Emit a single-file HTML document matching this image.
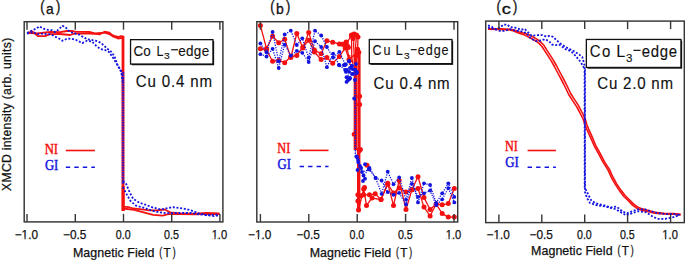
<!DOCTYPE html>
<html><head><meta charset="utf-8"><style>
html,body{margin:0;padding:0;background:#fff;width:685px;height:260px;overflow:hidden;}
svg{display:block;}
</style></head><body>
<svg width="685" height="260" viewBox="0 0 685 260" font-family="&quot;Liberation Sans&quot;, sans-serif">
<rect width="685" height="260" fill="#fff"/>
<polyline points="27.2,32.9 32.4,31.5 38.2,36.2 45.0,36.2 50.0,34.2 60.0,34.0 65.0,34.5 70.0,35.0 75.0,33.3 90.0,33.6 95.0,33.8 99.8,34.3 104.6,31.7 109.4,32.7 112.3,35.1 116.2,36.5 118.6,37.0 121.0,36.1 123.0,36.5 123.0,206.6 128.5,207.2 133.2,208.5 139.8,209.1 149.3,210.4 156.9,210.4 164.5,209.5 170.2,212.3 179.7,213.3 194.9,213.7 206.3,212.9 219.5,213.3" fill="none" stroke="#f41010" stroke-width="1.8" stroke-linejoin="round"/>
<polyline points="27.2,33.2 37.0,33.3 50.0,32.0 60.0,32.2 67.0,31.0 72.0,30.9 75.0,31.7 90.0,32.0 95.0,33.4 104.6,32.7 109.4,34.1 113.0,36.5 118.0,38.5 121.0,38.0 123.0,38.5 123.0,208.5 134.2,209.9 143.6,212.3 153.1,214.8 162.6,215.6 168.3,214.2 180.0,214.2 195.0,214.4 207.0,213.8 219.5,214.2" fill="none" stroke="#f41010" stroke-width="1.8" stroke-linejoin="round"/>
<line x1="123.0" y1="36" x2="123.0" y2="211" stroke="#f41010" stroke-width="2.8"/>
<line x1="123.2" y1="186" x2="123.2" y2="211" stroke="#f41010" stroke-width="3.0"/>
<polyline points="27.0,33.0 35.9,28.7 39.3,26.4 43.4,28.7 47.4,29.8 52.0,30.2 55.5,32.1 59.0,29.2 62.4,25.8 65.3,26.9 68.2,30.4 70.5,32.1 79.2,34.6 86.9,39.2 90.0,39.7 96.4,40.9 100.8,42.8 104.1,45.7 107.0,48.6 110.0,50.5 112.3,53.0 114.6,56.9 118.0,66.0 121.2,70.8 122.8,80.0" fill="none" stroke="#1414e0" stroke-width="1.8" stroke-dasharray="2 1.7" stroke-linejoin="round"/>
<polyline points="122.9,181.0 126.2,184.0 129.5,192.0 133.2,199.0 139.8,202.8 145.5,204.7 153.1,207.6 160.7,209.5 170.2,207.6 174.0,207.2 183.5,208.5 191.1,210.4 198.7,213.3 206.3,215.2 213.9,216.1 219.5,215.2" fill="none" stroke="#1414e0" stroke-width="1.8" stroke-dasharray="2 1.7" stroke-linejoin="round"/>
<polyline points="27.0,33.5 33.5,32.1 37.0,34.4 40.5,33.6 50.9,34.4 54.3,36.2 59.0,38.5 62.4,40.8 66.5,39.0 70.5,38.5 76.2,40.0 82.3,43.1 86.9,40.8 92.0,41.5 96.9,46.6 100.8,49.0 105.0,50.0 109.0,52.0 113.5,58.5 118.0,66.0 121.2,72.0 122.7,82.0" fill="none" stroke="#1414e0" stroke-width="1.8" stroke-dasharray="2 1.7" stroke-linejoin="round"/>
<polyline points="122.9,187.0 126.5,194.0 130.5,201.0 136.1,205.7 143.6,207.6 151.2,210.4 158.8,212.3 166.4,213.3 175.0,213.0 190.0,213.0 200.0,214.5 210.0,215.0 219.5,214.5" fill="none" stroke="#1414e0" stroke-width="1.8" stroke-dasharray="2 1.7" stroke-linejoin="round"/>
<line x1="123.0" y1="72" x2="123.0" y2="184" stroke="#1414e0" stroke-width="2.6" stroke-dasharray="1.8 0.7" opacity="0.78"/>
<polyline points="260.4,25.4 266.5,48.5 272.6,36.3 278.7,42.7 284.7,39.2 290.8,57.5 296.8,33.5 302.9,47.9 308.7,32.6 314.4,49.9 321.1,53.7 326.9,40.8 332.7,42.2 339.4,44.0 345.2,46.0 351.5,35.0 354.6,35.0" fill="none" stroke="#f41010" stroke-width="1.3" stroke-linejoin="round"/>
<polyline points="357.9,194.8 363.7,194.8 369.4,194.8 375.2,193.8 381.0,199.6 387.7,184.2 393.5,192.9 399.2,188.0 406.0,191.9 411.9,189.8 418.0,176.7 424.0,197.6 430.1,209.5 436.2,204.0 442.2,204.8 448.3,203.6 454.3,188.6" fill="none" stroke="#f41010" stroke-width="1.3" stroke-linejoin="round"/>
<polyline points="260.4,48.8 266.5,50.0 272.6,61.3 278.7,60.4 284.7,62.7 290.8,56.5 296.8,55.6 302.9,47.0 308.7,40.3 314.4,52.0 321.1,59.5 326.9,57.6 332.7,63.3 339.4,56.6 345.2,47.9 349.0,59.5 357.7,51.8" fill="none" stroke="#f41010" stroke-width="1.3" stroke-linejoin="round"/>
<polyline points="358.5,210.0 363.7,189.0 366.5,205.4 372.0,198.0 381.0,199.6 387.7,183.3 393.5,205.4 399.2,180.5 406.0,209.6 411.9,189.8 418.0,188.6 424.0,207.1 430.1,216.0 436.2,204.0 442.2,213.6 448.3,217.1 454.3,217.1" fill="none" stroke="#f41010" stroke-width="1.3" stroke-linejoin="round"/>
<line x1="355.4" y1="56" x2="355.4" y2="150" stroke="#f41010" stroke-width="3.5"/>
<line x1="359.0" y1="52" x2="359.0" y2="150" stroke="#f41010" stroke-width="3.2"/>
<line x1="358.7" y1="148" x2="358.7" y2="210" stroke="#f41010" stroke-width="3.4"/>
<polyline points="351.5,35.5 351.8,58.0 353.0,64.0" fill="none" stroke="#f41010" stroke-width="1.3" stroke-linejoin="round"/>
<polyline points="354.0,34.0 353.6,45.0 354.5,60.0" fill="none" stroke="#f41010" stroke-width="1.3" stroke-linejoin="round"/>
<polyline points="356.5,35.0 355.3,50.0 356.0,60.0" fill="none" stroke="#f41010" stroke-width="1.3" stroke-linejoin="round"/>
<polyline points="358.0,37.0 357.6,49.3 358.8,52.2 359.0,60.0" fill="none" stroke="#f41010" stroke-width="1.3" stroke-linejoin="round"/>
<polyline points="346.0,42.4 349.0,58.0 352.0,62.0" fill="none" stroke="#f41010" stroke-width="1.3" stroke-linejoin="round"/>
<polyline points="349.8,55.0 349.8,65.0" fill="none" stroke="#f41010" stroke-width="1.3" stroke-linejoin="round"/>
<circle cx="260.4" cy="25.4" r="2.5" fill="#f41010"/>
<circle cx="266.5" cy="48.5" r="2.5" fill="#f41010"/>
<circle cx="272.6" cy="36.3" r="2.5" fill="#f41010"/>
<circle cx="278.7" cy="42.7" r="2.5" fill="#f41010"/>
<circle cx="284.7" cy="39.2" r="2.5" fill="#f41010"/>
<circle cx="290.8" cy="57.5" r="2.5" fill="#f41010"/>
<circle cx="296.8" cy="33.5" r="2.5" fill="#f41010"/>
<circle cx="302.9" cy="47.9" r="2.5" fill="#f41010"/>
<circle cx="308.7" cy="32.6" r="2.5" fill="#f41010"/>
<circle cx="314.4" cy="49.9" r="2.5" fill="#f41010"/>
<circle cx="321.1" cy="53.7" r="2.5" fill="#f41010"/>
<circle cx="326.9" cy="40.8" r="2.5" fill="#f41010"/>
<circle cx="332.7" cy="42.2" r="2.5" fill="#f41010"/>
<circle cx="339.4" cy="44" r="2.5" fill="#f41010"/>
<circle cx="345.2" cy="46" r="2.5" fill="#f41010"/>
<circle cx="351.5" cy="35" r="2.5" fill="#f41010"/>
<circle cx="354.6" cy="35" r="2.5" fill="#f41010"/>
<circle cx="357.9" cy="194.8" r="2.5" fill="#f41010"/>
<circle cx="363.7" cy="194.8" r="2.5" fill="#f41010"/>
<circle cx="369.4" cy="194.8" r="2.5" fill="#f41010"/>
<circle cx="375.2" cy="193.8" r="2.5" fill="#f41010"/>
<circle cx="381" cy="199.6" r="2.5" fill="#f41010"/>
<circle cx="387.7" cy="184.2" r="2.5" fill="#f41010"/>
<circle cx="393.5" cy="192.9" r="2.5" fill="#f41010"/>
<circle cx="399.2" cy="188" r="2.5" fill="#f41010"/>
<circle cx="406" cy="191.9" r="2.5" fill="#f41010"/>
<circle cx="411.9" cy="189.8" r="2.5" fill="#f41010"/>
<circle cx="418" cy="176.7" r="2.5" fill="#f41010"/>
<circle cx="424" cy="197.6" r="2.5" fill="#f41010"/>
<circle cx="430.1" cy="209.5" r="2.5" fill="#f41010"/>
<circle cx="436.2" cy="204" r="2.5" fill="#f41010"/>
<circle cx="442.2" cy="204.8" r="2.5" fill="#f41010"/>
<circle cx="448.3" cy="203.6" r="2.5" fill="#f41010"/>
<circle cx="454.3" cy="188.6" r="2.5" fill="#f41010"/>
<circle cx="260.4" cy="48.8" r="2.5" fill="#f41010"/>
<circle cx="266.5" cy="50" r="2.5" fill="#f41010"/>
<circle cx="272.6" cy="61.3" r="2.5" fill="#f41010"/>
<circle cx="278.7" cy="60.4" r="2.5" fill="#f41010"/>
<circle cx="284.7" cy="62.7" r="2.5" fill="#f41010"/>
<circle cx="290.8" cy="56.5" r="2.5" fill="#f41010"/>
<circle cx="296.8" cy="55.6" r="2.5" fill="#f41010"/>
<circle cx="302.9" cy="47" r="2.5" fill="#f41010"/>
<circle cx="308.7" cy="40.3" r="2.5" fill="#f41010"/>
<circle cx="314.4" cy="52" r="2.5" fill="#f41010"/>
<circle cx="321.1" cy="59.5" r="2.5" fill="#f41010"/>
<circle cx="326.9" cy="57.6" r="2.5" fill="#f41010"/>
<circle cx="332.7" cy="63.3" r="2.5" fill="#f41010"/>
<circle cx="339.4" cy="56.6" r="2.5" fill="#f41010"/>
<circle cx="345.2" cy="47.9" r="2.5" fill="#f41010"/>
<circle cx="349" cy="59.5" r="2.5" fill="#f41010"/>
<circle cx="357.7" cy="51.8" r="2.5" fill="#f41010"/>
<circle cx="358.5" cy="210" r="2.5" fill="#f41010"/>
<circle cx="363.7" cy="189" r="2.5" fill="#f41010"/>
<circle cx="366.5" cy="205.4" r="2.5" fill="#f41010"/>
<circle cx="372" cy="198" r="2.5" fill="#f41010"/>
<circle cx="381" cy="199.6" r="2.5" fill="#f41010"/>
<circle cx="387.7" cy="183.3" r="2.5" fill="#f41010"/>
<circle cx="393.5" cy="205.4" r="2.5" fill="#f41010"/>
<circle cx="399.2" cy="180.5" r="2.5" fill="#f41010"/>
<circle cx="406" cy="209.6" r="2.5" fill="#f41010"/>
<circle cx="411.9" cy="189.8" r="2.5" fill="#f41010"/>
<circle cx="418" cy="188.6" r="2.5" fill="#f41010"/>
<circle cx="424" cy="207.1" r="2.5" fill="#f41010"/>
<circle cx="430.1" cy="216" r="2.5" fill="#f41010"/>
<circle cx="436.2" cy="204" r="2.5" fill="#f41010"/>
<circle cx="442.2" cy="213.6" r="2.5" fill="#f41010"/>
<circle cx="448.3" cy="217.1" r="2.5" fill="#f41010"/>
<circle cx="454.3" cy="217.1" r="2.5" fill="#f41010"/>
<circle cx="351.5" cy="35.5" r="2.5" fill="#f41010"/>
<circle cx="354" cy="34" r="2.5" fill="#f41010"/>
<circle cx="356.5" cy="35" r="2.5" fill="#f41010"/>
<circle cx="358" cy="37" r="2.5" fill="#f41010"/>
<circle cx="353" cy="38.5" r="2.5" fill="#f41010"/>
<circle cx="346" cy="42.4" r="2.5" fill="#f41010"/>
<circle cx="347.5" cy="46" r="2.5" fill="#f41010"/>
<circle cx="348.4" cy="47.6" r="2.5" fill="#f41010"/>
<circle cx="357.6" cy="49.3" r="2.5" fill="#f41010"/>
<circle cx="358.8" cy="52.2" r="2.5" fill="#f41010"/>
<circle cx="356" cy="56" r="2.5" fill="#f41010"/>
<circle cx="359.6" cy="96.2" r="2.5" fill="#f41010"/>
<circle cx="359.6" cy="104.6" r="2.5" fill="#f41010"/>
<circle cx="354.2" cy="134.2" r="2.5" fill="#f41010"/>
<circle cx="360.4" cy="149.6" r="2.5" fill="#f41010"/>
<circle cx="359.2" cy="150.8" r="2.5" fill="#f41010"/>
<circle cx="357.9" cy="201" r="2.5" fill="#f41010"/>
<circle cx="361" cy="195.7" r="2.5" fill="#f41010"/>
<circle cx="364.5" cy="187.4" r="2.5" fill="#f41010"/>
<circle cx="367" cy="165.2" r="2.5" fill="#f41010"/>
<circle cx="346.2" cy="41.9" r="2.5" fill="#f41010"/>
<circle cx="342.3" cy="44.2" r="2.5" fill="#f41010"/>
<polyline points="260.4,43.5 266.5,52.3 272.6,31.9 278.7,61.3 284.7,34.4 290.8,30.6 296.8,45.0 302.3,38.3 308.7,57.6 315.0,30.7 321.2,35.5 326.9,47.0 333.1,57.6 339.4,51.8 345.2,64.3 349.0,61.4 352.0,66.0" fill="none" stroke="#1414e0" stroke-width="1.3" stroke-dasharray="1.2 1.3"/>
<polyline points="352.0,66.0 355.3,72.0 355.3,155.0 357.0,157.0" fill="none" stroke="#1414e0" stroke-width="1.3" stroke-dasharray="1.2 1.3"/>
<polyline points="357.0,157.0 362.0,172.0 369.5,169.5 375.6,177.9 381.6,193.8 387.7,171.7 393.5,184.2 399.2,177.5 406.0,199.6 411.9,177.9 418.0,202.4 424.0,183.3 430.1,185.0 436.2,202.9 442.2,193.3 448.3,183.3 454.3,196.9" fill="none" stroke="#1414e0" stroke-width="1.3" stroke-dasharray="1.2 1.3"/>
<polyline points="260.4,54.2 266.5,56.5 272.6,48.8 278.7,68.0 284.7,44.6 290.8,55.6 296.8,50.8 302.3,52.8 308.7,62.0 315.0,41.2 321.2,47.0 326.9,67.2 333.1,53.7 339.4,65.3 345.2,70.0 350.0,78.0 355.0,80.0" fill="none" stroke="#1414e0" stroke-width="1.3" stroke-dasharray="1.2 1.3"/>
<polyline points="355.0,80.0 355.5,155.0 358.0,160.0" fill="none" stroke="#1414e0" stroke-width="1.3" stroke-dasharray="1.2 1.3"/>
<polyline points="358.0,160.0 363.5,175.5 369.5,168.0 375.6,177.9 381.6,180.5 387.7,192.1 393.5,194.8 399.2,192.9 406.0,204.4 411.9,183.8 418.0,196.9 424.0,193.3 430.1,190.5 436.2,205.2 442.2,199.3 448.3,188.1 454.3,202.4" fill="none" stroke="#1414e0" stroke-width="1.3" stroke-dasharray="1.2 1.3"/>
<circle cx="260.4" cy="43.5" r="1.9" fill="#1414e0"/>
<circle cx="266.5" cy="52.3" r="1.9" fill="#1414e0"/>
<circle cx="272.6" cy="31.9" r="1.9" fill="#1414e0"/>
<circle cx="278.7" cy="61.3" r="1.9" fill="#1414e0"/>
<circle cx="284.7" cy="34.4" r="1.9" fill="#1414e0"/>
<circle cx="290.8" cy="30.6" r="1.9" fill="#1414e0"/>
<circle cx="296.8" cy="45" r="1.9" fill="#1414e0"/>
<circle cx="302.3" cy="38.3" r="1.9" fill="#1414e0"/>
<circle cx="308.7" cy="57.6" r="1.9" fill="#1414e0"/>
<circle cx="315" cy="30.7" r="1.9" fill="#1414e0"/>
<circle cx="321.2" cy="35.5" r="1.9" fill="#1414e0"/>
<circle cx="326.9" cy="47" r="1.9" fill="#1414e0"/>
<circle cx="333.1" cy="57.6" r="1.9" fill="#1414e0"/>
<circle cx="339.4" cy="51.8" r="1.9" fill="#1414e0"/>
<circle cx="345.2" cy="64.3" r="1.9" fill="#1414e0"/>
<circle cx="349" cy="61.4" r="1.9" fill="#1414e0"/>
<circle cx="352" cy="66" r="1.9" fill="#1414e0"/>
<circle cx="357" cy="157" r="1.9" fill="#1414e0"/>
<circle cx="362" cy="172" r="1.9" fill="#1414e0"/>
<circle cx="369.5" cy="169.5" r="1.9" fill="#1414e0"/>
<circle cx="375.6" cy="177.9" r="1.9" fill="#1414e0"/>
<circle cx="381.6" cy="193.8" r="1.9" fill="#1414e0"/>
<circle cx="387.7" cy="171.7" r="1.9" fill="#1414e0"/>
<circle cx="393.5" cy="184.2" r="1.9" fill="#1414e0"/>
<circle cx="399.2" cy="177.5" r="1.9" fill="#1414e0"/>
<circle cx="406" cy="199.6" r="1.9" fill="#1414e0"/>
<circle cx="411.9" cy="177.9" r="1.9" fill="#1414e0"/>
<circle cx="418" cy="202.4" r="1.9" fill="#1414e0"/>
<circle cx="424" cy="183.3" r="1.9" fill="#1414e0"/>
<circle cx="430.1" cy="185" r="1.9" fill="#1414e0"/>
<circle cx="436.2" cy="202.9" r="1.9" fill="#1414e0"/>
<circle cx="442.2" cy="193.3" r="1.9" fill="#1414e0"/>
<circle cx="448.3" cy="183.3" r="1.9" fill="#1414e0"/>
<circle cx="454.3" cy="196.9" r="1.9" fill="#1414e0"/>
<circle cx="260.4" cy="54.2" r="1.9" fill="#1414e0"/>
<circle cx="266.5" cy="56.5" r="1.9" fill="#1414e0"/>
<circle cx="272.6" cy="48.8" r="1.9" fill="#1414e0"/>
<circle cx="278.7" cy="68" r="1.9" fill="#1414e0"/>
<circle cx="284.7" cy="44.6" r="1.9" fill="#1414e0"/>
<circle cx="290.8" cy="55.6" r="1.9" fill="#1414e0"/>
<circle cx="296.8" cy="50.8" r="1.9" fill="#1414e0"/>
<circle cx="302.3" cy="52.8" r="1.9" fill="#1414e0"/>
<circle cx="308.7" cy="62" r="1.9" fill="#1414e0"/>
<circle cx="315" cy="41.2" r="1.9" fill="#1414e0"/>
<circle cx="321.2" cy="47" r="1.9" fill="#1414e0"/>
<circle cx="326.9" cy="67.2" r="1.9" fill="#1414e0"/>
<circle cx="333.1" cy="53.7" r="1.9" fill="#1414e0"/>
<circle cx="339.4" cy="65.3" r="1.9" fill="#1414e0"/>
<circle cx="345.2" cy="70" r="1.9" fill="#1414e0"/>
<circle cx="350" cy="78" r="1.9" fill="#1414e0"/>
<circle cx="355" cy="80" r="1.9" fill="#1414e0"/>
<circle cx="358" cy="160" r="1.9" fill="#1414e0"/>
<circle cx="363.5" cy="175.5" r="1.9" fill="#1414e0"/>
<circle cx="369.5" cy="168" r="1.9" fill="#1414e0"/>
<circle cx="375.6" cy="177.9" r="1.9" fill="#1414e0"/>
<circle cx="381.6" cy="180.5" r="1.9" fill="#1414e0"/>
<circle cx="387.7" cy="192.1" r="1.9" fill="#1414e0"/>
<circle cx="393.5" cy="194.8" r="1.9" fill="#1414e0"/>
<circle cx="399.2" cy="192.9" r="1.9" fill="#1414e0"/>
<circle cx="406" cy="204.4" r="1.9" fill="#1414e0"/>
<circle cx="411.9" cy="183.8" r="1.9" fill="#1414e0"/>
<circle cx="418" cy="196.9" r="1.9" fill="#1414e0"/>
<circle cx="424" cy="193.3" r="1.9" fill="#1414e0"/>
<circle cx="430.1" cy="190.5" r="1.9" fill="#1414e0"/>
<circle cx="436.2" cy="205.2" r="1.9" fill="#1414e0"/>
<circle cx="442.2" cy="199.3" r="1.9" fill="#1414e0"/>
<circle cx="448.3" cy="188.1" r="1.9" fill="#1414e0"/>
<circle cx="454.3" cy="202.4" r="1.9" fill="#1414e0"/>
<circle cx="339" cy="65.1" r="1.9" fill="#1414e0"/>
<circle cx="343.8" cy="65.1" r="1.9" fill="#1414e0"/>
<circle cx="345.8" cy="64.4" r="1.9" fill="#1414e0"/>
<circle cx="349.2" cy="61" r="1.9" fill="#1414e0"/>
<circle cx="351.8" cy="65.8" r="1.9" fill="#1414e0"/>
<circle cx="345.8" cy="71.8" r="1.9" fill="#1414e0"/>
<circle cx="349.2" cy="71.8" r="1.9" fill="#1414e0"/>
<circle cx="352.5" cy="69.1" r="1.9" fill="#1414e0"/>
<circle cx="355.2" cy="69.8" r="1.9" fill="#1414e0"/>
<circle cx="356.6" cy="73.2" r="1.9" fill="#1414e0"/>
<circle cx="353.2" cy="73.8" r="1.9" fill="#1414e0"/>
<circle cx="346.5" cy="77.2" r="1.9" fill="#1414e0"/>
<circle cx="347.8" cy="80.6" r="1.9" fill="#1414e0"/>
<circle cx="346.5" cy="81.9" r="1.9" fill="#1414e0"/>
<circle cx="349.2" cy="79.2" r="1.9" fill="#1414e0"/>
<circle cx="339" cy="64.8" r="1.9" fill="#1414e0"/>
<circle cx="345" cy="65" r="1.9" fill="#1414e0"/>
<circle cx="347" cy="70" r="1.9" fill="#1414e0"/>
<circle cx="348" cy="78" r="1.9" fill="#1414e0"/>
<circle cx="352" cy="74" r="1.9" fill="#1414e0"/>
<circle cx="355" cy="70" r="1.9" fill="#1414e0"/>
<circle cx="357" cy="72" r="1.9" fill="#1414e0"/>
<circle cx="356" cy="64" r="1.9" fill="#1414e0"/>
<circle cx="350" cy="68" r="1.9" fill="#1414e0"/>
<circle cx="354.2" cy="98.5" r="1.9" fill="#1414e0"/>
<circle cx="356.3" cy="156.5" r="1.9" fill="#1414e0"/>
<circle cx="358.3" cy="162.3" r="1.9" fill="#1414e0"/>
<circle cx="361.2" cy="168" r="1.9" fill="#1414e0"/>
<circle cx="365" cy="164.2" r="1.9" fill="#1414e0"/>
<circle cx="368.8" cy="169" r="1.9" fill="#1414e0"/>
<circle cx="365" cy="178.7" r="1.9" fill="#1414e0"/>
<circle cx="360" cy="166" r="1.9" fill="#1414e0"/>
<circle cx="357.5" cy="170" r="1.9" fill="#1414e0"/>
<circle cx="363" cy="181" r="1.9" fill="#1414e0"/>
<polyline points="488.0,29.3 500.0,29.5 510.0,29.9 513.9,30.9 517.8,32.7 524.7,35.1 529.5,37.5 532.5,39.2 536.4,41.4 539.3,43.6 542.1,46.7 544.6,50.6 547.2,54.6 551.1,60.6 554.4,66.5 556.5,70.5 558.6,74.5 561.8,80.5 564.9,86.5 566.8,90.5 568.7,94.5 572.6,100.6 576.6,106.6 578.7,110.5 580.8,114.5 583.3,119.4 585.1,125.3 586.8,129.4 589.6,135.4 594.4,146.3 596.7,150.4 598.9,154.4 603.2,162.4 608.2,170.4 610.8,176.3 613.0,180.4 615.3,184.4 619.3,190.4 623.9,196.5 628.1,200.5 632.5,205.1 637.3,208.7 641.8,210.3 647.2,211.4 654.9,213.3 663.8,214.0 673.5,214.2 680.7,214.9" fill="none" stroke="#f41010" stroke-width="1.6" stroke-linejoin="round"/>
<polyline points="488.0,28.7 500.0,28.9 510.0,29.3 514.1,30.1 518.2,31.7 525.3,33.5 530.5,35.5 533.5,37.2 537.6,39.6 540.7,42.0 543.9,45.3 546.4,49.4 549.0,53.4 552.9,59.4 556.4,65.5 558.5,69.5 560.6,73.5 563.8,79.5 566.9,85.5 568.8,89.5 570.7,93.5 574.4,99.4 578.4,105.4 580.5,109.5 582.6,113.5 585.1,118.6 586.9,124.7 588.4,128.6 591.2,134.6 595.8,145.7 598.1,149.6 600.3,153.6 604.4,161.6 609.6,169.6 612.2,175.7 614.4,179.6 616.5,183.6 620.5,189.6 625.1,195.5 629.1,199.5 633.5,203.9 638.1,207.3 642.2,208.9 647.4,210.2 655.1,212.3 663.8,213.4 673.5,213.6 680.7,214.3" fill="none" stroke="#f41010" stroke-width="1.6" stroke-linejoin="round"/>
<polyline points="488.0,25.4 491.9,26.9 495.8,29.2 499.6,27.7 503.5,24.6 507.3,24.6 510.0,27.0 515.4,27.7 520.8,29.7 524.8,29.0 527.5,31.7 531.6,35.8 537.0,35.1 542.3,35.1 546.4,36.5 550.4,35.8 553.1,36.9 556.2,40.0 560.8,43.8 565.4,46.9 570.0,49.2 574.6,51.5 579.2,54.6 582.3,56.9 583.1,60.0 584.6,65.4 584.7,188.0 586.0,190.0 588.0,194.0 591.0,200.0 595.0,203.0 600.0,204.5 605.0,205.6 610.8,207.5 616.5,206.5 622.3,211.3 627.1,213.3 631.9,211.3 637.7,209.4 645.4,209.4 651.2,211.3 657.3,213.1 667.0,214.2 673.5,213.9 680.7,215.2" fill="none" stroke="#1414e0" stroke-width="1.8" stroke-dasharray="2 1.7" stroke-linejoin="round"/>
<polyline points="488.0,27.7 495.8,29.5 499.6,30.8 504.2,30.8 509.6,29.2 515.8,30.8 520.4,31.1 526.5,33.1 530.2,37.8 535.6,41.2 541.0,40.5 545.0,39.2 549.1,41.2 551.8,44.5 555.8,45.2 559.2,44.6 562.3,46.9 565.4,49.2 570.0,50.8 573.1,53.1 576.2,56.9 578.5,59.2 580.8,62.3 583.1,66.2 585.0,70.0 585.0,192.0 587.0,198.0 590.0,203.0 596.0,205.0 605.0,206.5 615.0,209.0 626.2,215.2 631.9,213.3 637.7,211.3 646.3,212.3 652.1,216.2 657.3,218.8 665.4,218.8 673.5,217.2 679.9,214.7" fill="none" stroke="#1414e0" stroke-width="1.8" stroke-dasharray="2 1.7" stroke-linejoin="round"/>
<rect x="24.2" y="21.7" width="198.7" height="200.2" fill="none" stroke="#363636" stroke-width="1.45"/>
<line x1="27.0" y1="221.9" x2="27.0" y2="213.9" stroke="#363636" stroke-width="1.4"/>
<line x1="27.0" y1="21.7" x2="27.0" y2="29.7" stroke="#363636" stroke-width="1.4"/>
<text x="14.72" y="238.80" font-size="12.20" textLength="23.24" lengthAdjust="spacingAndGlyphs" fill="#111" stroke="#111" stroke-width="0.25">−1.0</text>
<rect x="22.28" y="237.55" width="2.21" height="2.5" fill="#fff"/>
<rect x="25.65" y="237.55" width="2.15" height="2.5" fill="#fff"/>
<line x1="75.3" y1="221.9" x2="75.3" y2="213.9" stroke="#363636" stroke-width="1.4"/>
<line x1="75.3" y1="21.7" x2="75.3" y2="29.7" stroke="#363636" stroke-width="1.4"/>
<text x="63.02" y="238.80" font-size="12.20" textLength="23.28" lengthAdjust="spacingAndGlyphs" fill="#111" stroke="#111" stroke-width="0.25">−0.5</text>
<line x1="123.5" y1="221.9" x2="123.5" y2="213.9" stroke="#363636" stroke-width="1.4"/>
<line x1="123.5" y1="21.7" x2="123.5" y2="29.7" stroke="#363636" stroke-width="1.4"/>
<text x="115.78" y="238.80" font-size="12.20" textLength="14.83" lengthAdjust="spacingAndGlyphs" fill="#111" stroke="#111" stroke-width="0.25">0.0</text>
<line x1="171.7" y1="221.9" x2="171.7" y2="213.9" stroke="#363636" stroke-width="1.4"/>
<line x1="171.7" y1="21.7" x2="171.7" y2="29.7" stroke="#363636" stroke-width="1.4"/>
<text x="163.98" y="238.80" font-size="12.20" textLength="14.87" lengthAdjust="spacingAndGlyphs" fill="#111" stroke="#111" stroke-width="0.25">0.5</text>
<line x1="219.9" y1="221.9" x2="219.9" y2="213.9" stroke="#363636" stroke-width="1.4"/>
<line x1="219.9" y1="21.7" x2="219.9" y2="29.7" stroke="#363636" stroke-width="1.4"/>
<text x="211.65" y="238.80" font-size="12.20" textLength="15.48" lengthAdjust="spacingAndGlyphs" fill="#111" stroke="#111" stroke-width="0.25">1.0</text>
<rect x="212.30" y="237.55" width="2.09" height="2.5" fill="#fff"/>
<rect x="215.49" y="237.55" width="2.03" height="2.5" fill="#fff"/>
<rect x="256.8" y="21.7" width="200.9" height="200.3" fill="none" stroke="#363636" stroke-width="1.45"/>
<line x1="260.4" y1="222.0" x2="260.4" y2="214.0" stroke="#363636" stroke-width="1.4"/>
<line x1="260.4" y1="21.7" x2="260.4" y2="29.7" stroke="#363636" stroke-width="1.4"/>
<text x="248.12" y="238.80" font-size="12.20" textLength="23.24" lengthAdjust="spacingAndGlyphs" fill="#111" stroke="#111" stroke-width="0.25">−1.0</text>
<rect x="255.68" y="237.55" width="2.21" height="2.5" fill="#fff"/>
<rect x="259.05" y="237.55" width="2.15" height="2.5" fill="#fff"/>
<line x1="308.8" y1="222.0" x2="308.8" y2="214.0" stroke="#363636" stroke-width="1.4"/>
<line x1="308.8" y1="21.7" x2="308.8" y2="29.7" stroke="#363636" stroke-width="1.4"/>
<text x="296.52" y="238.80" font-size="12.20" textLength="23.28" lengthAdjust="spacingAndGlyphs" fill="#111" stroke="#111" stroke-width="0.25">−0.5</text>
<line x1="357.2" y1="222.0" x2="357.2" y2="214.0" stroke="#363636" stroke-width="1.4"/>
<line x1="357.2" y1="21.7" x2="357.2" y2="29.7" stroke="#363636" stroke-width="1.4"/>
<text x="349.48" y="238.80" font-size="12.20" textLength="14.83" lengthAdjust="spacingAndGlyphs" fill="#111" stroke="#111" stroke-width="0.25">0.0</text>
<line x1="405.6" y1="222.0" x2="405.6" y2="214.0" stroke="#363636" stroke-width="1.4"/>
<line x1="405.6" y1="21.7" x2="405.6" y2="29.7" stroke="#363636" stroke-width="1.4"/>
<text x="397.88" y="238.80" font-size="12.20" textLength="14.87" lengthAdjust="spacingAndGlyphs" fill="#111" stroke="#111" stroke-width="0.25">0.5</text>
<line x1="454.0" y1="222.0" x2="454.0" y2="214.0" stroke="#363636" stroke-width="1.4"/>
<line x1="454.0" y1="21.7" x2="454.0" y2="29.7" stroke="#363636" stroke-width="1.4"/>
<text x="445.75" y="238.80" font-size="12.20" textLength="15.48" lengthAdjust="spacingAndGlyphs" fill="#111" stroke="#111" stroke-width="0.25">1.0</text>
<rect x="446.40" y="237.55" width="2.09" height="2.5" fill="#fff"/>
<rect x="449.59" y="237.55" width="2.03" height="2.5" fill="#fff"/>
<rect x="485.7" y="21.1" width="198.6" height="201.5" fill="none" stroke="#363636" stroke-width="1.45"/>
<line x1="498.9" y1="222.6" x2="498.9" y2="214.6" stroke="#363636" stroke-width="1.4"/>
<line x1="498.9" y1="21.1" x2="498.9" y2="29.1" stroke="#363636" stroke-width="1.4"/>
<text x="486.62" y="239.30" font-size="12.20" textLength="23.24" lengthAdjust="spacingAndGlyphs" fill="#111" stroke="#111" stroke-width="0.25">−1.0</text>
<rect x="494.18" y="238.05" width="2.21" height="2.5" fill="#fff"/>
<rect x="497.55" y="238.05" width="2.15" height="2.5" fill="#fff"/>
<line x1="541.8" y1="222.6" x2="541.8" y2="214.6" stroke="#363636" stroke-width="1.4"/>
<line x1="541.8" y1="21.1" x2="541.8" y2="29.1" stroke="#363636" stroke-width="1.4"/>
<text x="529.52" y="239.30" font-size="12.20" textLength="23.28" lengthAdjust="spacingAndGlyphs" fill="#111" stroke="#111" stroke-width="0.25">−0.5</text>
<line x1="584.7" y1="222.6" x2="584.7" y2="214.6" stroke="#363636" stroke-width="1.4"/>
<line x1="584.7" y1="21.1" x2="584.7" y2="29.1" stroke="#363636" stroke-width="1.4"/>
<text x="576.98" y="239.30" font-size="12.20" textLength="14.83" lengthAdjust="spacingAndGlyphs" fill="#111" stroke="#111" stroke-width="0.25">0.0</text>
<line x1="627.6" y1="222.6" x2="627.6" y2="214.6" stroke="#363636" stroke-width="1.4"/>
<line x1="627.6" y1="21.1" x2="627.6" y2="29.1" stroke="#363636" stroke-width="1.4"/>
<text x="619.88" y="239.30" font-size="12.20" textLength="14.87" lengthAdjust="spacingAndGlyphs" fill="#111" stroke="#111" stroke-width="0.25">0.5</text>
<line x1="670.6" y1="222.6" x2="670.6" y2="214.6" stroke="#363636" stroke-width="1.4"/>
<line x1="670.6" y1="21.1" x2="670.6" y2="29.1" stroke="#363636" stroke-width="1.4"/>
<text x="662.35" y="239.30" font-size="12.20" textLength="15.48" lengthAdjust="spacingAndGlyphs" fill="#111" stroke="#111" stroke-width="0.25">1.0</text>
<rect x="663.00" y="238.05" width="2.09" height="2.5" fill="#fff"/>
<rect x="666.19" y="238.05" width="2.03" height="2.5" fill="#fff"/>
<text x="40.20" y="11.90" font-size="16.00" textLength="4.27" lengthAdjust="spacingAndGlyphs" fill="#111" stroke="#111" stroke-width="0.35">(</text>
<text x="46.11" y="13.80" font-size="14.30" textLength="7.69" lengthAdjust="spacingAndGlyphs" fill="#111" stroke="#111" stroke-width="0.3">a</text>
<text x="56.12" y="11.90" font-size="16.00" textLength="4.27" lengthAdjust="spacingAndGlyphs" fill="#111" stroke="#111" stroke-width="0.35">)</text>
<text x="270.30" y="11.90" font-size="16.00" textLength="4.27" lengthAdjust="spacingAndGlyphs" fill="#111" stroke="#111" stroke-width="0.35">(</text>
<text x="276.00" y="13.80" font-size="14.30" textLength="7.79" lengthAdjust="spacingAndGlyphs" fill="#111" stroke="#111" stroke-width="0.3">b</text>
<text x="285.92" y="11.90" font-size="16.00" textLength="4.27" lengthAdjust="spacingAndGlyphs" fill="#111" stroke="#111" stroke-width="0.35">)</text>
<text x="496.60" y="11.90" font-size="16.00" textLength="4.27" lengthAdjust="spacingAndGlyphs" fill="#111" stroke="#111" stroke-width="0.35">(</text>
<text x="501.82" y="13.80" font-size="14.30" textLength="9.16" lengthAdjust="spacingAndGlyphs" fill="#111" stroke="#111" stroke-width="0.3">c</text>
<text x="513.12" y="11.90" font-size="16.00" textLength="4.27" lengthAdjust="spacingAndGlyphs" fill="#111" stroke="#111" stroke-width="0.35">)</text>
<text x="72.98" y="256.60" font-size="12.40" letter-spacing="0.068" fill="#111" stroke="#111" stroke-width="0.25">Magnetic Field</text>
<text x="159.36" y="256.00" font-size="12.60" textLength="2.89" lengthAdjust="spacingAndGlyphs" fill="#111" stroke="#111" stroke-width="0.3">(</text>
<text x="163.54" y="257.00" font-size="12.20" textLength="7.13" lengthAdjust="spacingAndGlyphs" fill="#111" stroke="#111" stroke-width="0.25">T</text>
<text x="172.65" y="256.00" font-size="12.60" textLength="2.89" lengthAdjust="spacingAndGlyphs" fill="#111" stroke="#111" stroke-width="0.3">)</text>
<text x="309.68" y="256.80" font-size="12.40" letter-spacing="0.068" fill="#111" stroke="#111" stroke-width="0.25">Magnetic Field</text>
<text x="396.06" y="256.20" font-size="12.60" textLength="2.89" lengthAdjust="spacingAndGlyphs" fill="#111" stroke="#111" stroke-width="0.3">(</text>
<text x="400.24" y="257.20" font-size="12.20" textLength="7.13" lengthAdjust="spacingAndGlyphs" fill="#111" stroke="#111" stroke-width="0.25">T</text>
<text x="409.35" y="256.20" font-size="12.60" textLength="2.89" lengthAdjust="spacingAndGlyphs" fill="#111" stroke="#111" stroke-width="0.3">)</text>
<text x="531.08" y="254.80" font-size="12.40" letter-spacing="0.068" fill="#111" stroke="#111" stroke-width="0.25">Magnetic Field</text>
<text x="617.46" y="254.20" font-size="12.60" textLength="2.89" lengthAdjust="spacingAndGlyphs" fill="#111" stroke="#111" stroke-width="0.3">(</text>
<text x="621.64" y="255.20" font-size="12.20" textLength="7.13" lengthAdjust="spacingAndGlyphs" fill="#111" stroke="#111" stroke-width="0.25">T</text>
<text x="630.75" y="254.20" font-size="12.60" textLength="2.89" lengthAdjust="spacingAndGlyphs" fill="#111" stroke="#111" stroke-width="0.3">)</text>
<g transform="translate(11.0,0) rotate(-90)"><text x="-190.97" y="0.00" font-size="12.20" letter-spacing="0.291" fill="#111" stroke="#111" stroke-width="0.25">XMCD intensity (arb. units)</text></g>
<rect x="131.75" y="40.85" width="82.4" height="24.4" fill="#111"/>
<rect x="130.55" y="39.65" width="82.4" height="24.4" fill="#fff" stroke="#111" stroke-width="1.3"/>
<rect x="370.5" y="40.7" width="82.65" height="24.15" fill="#111"/>
<rect x="369.3" y="39.5" width="82.65" height="24.15" fill="#fff" stroke="#111" stroke-width="1.3"/>
<rect x="587.5500000000001" y="40.650000000000006" width="94.6" height="28.0" fill="#111"/>
<rect x="586.35" y="39.45" width="94.6" height="28.0" fill="#fff" stroke="#111" stroke-width="1.3"/>
<text x="148.24" y="55.80" font-size="15.00" letter-spacing="0.217" fill="#111" stroke="#111" stroke-width="0.12" transform="scale(0.9,1)">Co</text>
<text x="156.58" y="55.80" font-size="15.00" textLength="6.94" lengthAdjust="spacingAndGlyphs" fill="#111" stroke="#111" stroke-width="0.12">L</text>
<text x="163.91" y="59.00" font-size="9.90" textLength="5.75" lengthAdjust="spacingAndGlyphs" fill="#111" stroke="#111" stroke-width="0.12">3</text>
<rect x="171.20" y="49.15" width="6.80" height="1.2" fill="#111"/>
<text x="198.14" y="55.80" font-size="15.00" letter-spacing="0.312" fill="#111" stroke="#111" stroke-width="0.12" transform="scale(0.9,1)">edge</text>
<text x="413.84" y="55.20" font-size="14.00" letter-spacing="2.077" fill="#111" stroke="#111" stroke-width="0.12" transform="scale(0.9,1)">Cu</text>
<text x="395.42" y="55.20" font-size="14.00" textLength="7.32" lengthAdjust="spacingAndGlyphs" fill="#111" stroke="#111" stroke-width="0.12">L</text>
<text x="403.91" y="58.60" font-size="9.24" textLength="5.63" lengthAdjust="spacingAndGlyphs" fill="#111" stroke="#111" stroke-width="0.12">3</text>
<rect x="410.80" y="49.05" width="5.90" height="1.2" fill="#111"/>
<text x="464.29" y="55.20" font-size="14.00" letter-spacing="1.024" fill="#111" stroke="#111" stroke-width="0.12" transform="scale(0.9,1)">edge</text>
<text x="655.27" y="57.20" font-size="16.60" letter-spacing="1.542" fill="#111" stroke="#111" stroke-width="0.12" transform="scale(0.9,1)">Co</text>
<text x="616.28" y="57.20" font-size="16.60" textLength="8.96" lengthAdjust="spacingAndGlyphs" fill="#111" stroke="#111" stroke-width="0.12">L</text>
<text x="626.06" y="61.80" font-size="10.96" textLength="6.45" lengthAdjust="spacingAndGlyphs" fill="#111" stroke="#111" stroke-width="0.12">3</text>
<rect x="633.40" y="49.75" width="7.20" height="1.2" fill="#111"/>
<text x="713.18" y="57.20" font-size="16.60" letter-spacing="0.690" fill="#111" stroke="#111" stroke-width="0.12" transform="scale(0.9,1)">edge</text>
<text x="147.54" y="87.30" font-size="16.40" letter-spacing="0.904" fill="#111" stroke="#111" stroke-width="0.15" transform="scale(0.92,1)">Cu 0.4 nm</text>
<text x="406.02" y="88.60" font-size="16.40" letter-spacing="0.891" fill="#111" stroke="#111" stroke-width="0.15" transform="scale(0.92,1)">Cu 0.4 nm</text>
<text x="649.28" y="89.50" font-size="16.40" letter-spacing="0.823" fill="#111" stroke="#111" stroke-width="0.15" transform="scale(0.92,1)">Cu 2.0 nm</text>
<text x="44.63" y="154.00" font-size="15.00" textLength="13.41" lengthAdjust="spacingAndGlyphs" fill="#f41010" stroke="#f41010" stroke-width="0.45" font-family="&quot;Liberation Serif&quot;, serif">NI</text>
<text x="44.88" y="169.80" font-size="15.00" textLength="13.47" lengthAdjust="spacingAndGlyphs" fill="#1414e0" stroke="#1414e0" stroke-width="0.45" font-family="&quot;Liberation Serif&quot;, serif">GI</text>
<line x1="65.8" y1="150.5" x2="94.9" y2="150.5" stroke="#f41010" stroke-width="1.6"/>
<line x1="65.8" y1="167.3" x2="94.9" y2="167.3" stroke="#1414e0" stroke-width="1.4" stroke-dasharray="4.4 4.1"/>
<text x="277.35" y="153.40" font-size="15.00" textLength="12.99" lengthAdjust="spacingAndGlyphs" fill="#f41010" stroke="#f41010" stroke-width="0.45" font-family="&quot;Liberation Serif&quot;, serif">NI</text>
<text x="277.48" y="169.10" font-size="15.00" textLength="13.47" lengthAdjust="spacingAndGlyphs" fill="#1414e0" stroke="#1414e0" stroke-width="0.45" font-family="&quot;Liberation Serif&quot;, serif">GI</text>
<line x1="299.6" y1="150.4" x2="328.5" y2="150.4" stroke="#f41010" stroke-width="1.6"/>
<line x1="299.6" y1="166.5" x2="328.5" y2="166.5" stroke="#1414e0" stroke-width="1.4" stroke-dasharray="4.4 4.1"/>
<text x="505.05" y="151.40" font-size="15.00" textLength="12.88" lengthAdjust="spacingAndGlyphs" fill="#f41010" stroke="#f41010" stroke-width="0.45" font-family="&quot;Liberation Serif&quot;, serif">NI</text>
<text x="505.17" y="167.10" font-size="15.00" textLength="13.58" lengthAdjust="spacingAndGlyphs" fill="#1414e0" stroke="#1414e0" stroke-width="0.45" font-family="&quot;Liberation Serif&quot;, serif">GI</text>
<line x1="527.6" y1="150.5" x2="555.9" y2="150.5" stroke="#f41010" stroke-width="1.6"/>
<line x1="527.6" y1="167.2" x2="555.9" y2="167.2" stroke="#1414e0" stroke-width="1.4" stroke-dasharray="4.4 4.1"/>
</svg>
</body></html>
